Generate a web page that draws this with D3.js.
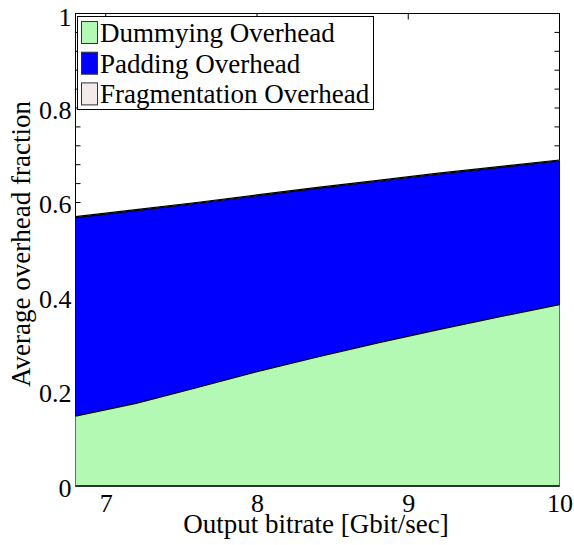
<!DOCTYPE html>
<html>
<head>
<meta charset="utf-8">
<script src="https://cdn.jsdelivr.net/npm/d3@7"></script>
<style>
  html, body { margin: 0; padding: 0; background: #fff; }
  svg { display: block; }
  text { font-family: "Liberation Serif", "Times New Roman", serif; fill: #000; }
</style>
</head>
<body>
<svg id="chart" width="574" height="545"></svg>
<script>
// Output bitrate in Gbit/sec
const bitrate = [6.8, 7.2, 7.6, 8.0, 8.4, 8.8, 9.2, 9.6, 10.0];
// Overhead components (fractions, stacked)
const dummying      = [0.148, 0.175, 0.208, 0.242, 0.273, 0.303, 0.331, 0.358, 0.384];
const padding       = [0.420, 0.408, 0.390, 0.372, 0.357, 0.342, 0.329, 0.316, 0.304];
const fragmentation = [0.002, 0.002, 0.002, 0.002, 0.002, 0.002, 0.002, 0.002, 0.002];

const seriesNames = ["Dummying Overhead", "Padding Overhead", "Fragmentation Overhead"];
const seriesColors = ["#b3f8b3", "#0000ff", "#f3eaea"];
const xTicks = [7, 8, 9, 10];
const yTicks = [0, 0.2, 0.4, 0.6, 0.8, 1];

const svg = d3.select("#chart");
const plotLeft = 75.5, plotRight = 559.5, plotTop = 13.5, plotBottom = 486;

const x = d3.scaleLinear().domain([6.8, 10]).range([plotLeft, plotRight]);
const y = d3.scaleLinear().domain([0, 1]).range([plotBottom, plotTop]);

const rows = bitrate.map((b, i) => ({
  bitrate: b,
  d: dummying[i], p: padding[i], f: fragmentation[i]
}));
const stack = d3.stack().keys(["d", "p", "f"]);
const layers = stack(rows);

// axes frame and inward ticks (drawn below the filled areas)
const frame = svg.append("g");
frame.append("rect")
  .attr("x", plotLeft).attr("y", plotTop)
  .attr("width", plotRight - plotLeft).attr("height", plotBottom - plotTop)
  .attr("fill", "none").attr("stroke", "#000").attr("stroke-width", 1);

const minorY = d3.range(0, 1.0001, 0.04);
frame.selectAll(".yl").data(minorY).join("line")
  .attr("x1", plotLeft).attr("x2", plotLeft + 5)
  .attr("y1", d => y(d)).attr("y2", d => y(d))
  .attr("stroke", "#000");
frame.selectAll(".yr").data(minorY).join("line")
  .attr("x1", plotRight).attr("x2", plotRight - 5)
  .attr("y1", d => y(d)).attr("y2", d => y(d))
  .attr("stroke", "#000");
frame.selectAll(".xt").data(xTicks).join("line")
  .attr("x1", d => x(d)).attr("x2", d => x(d))
  .attr("y1", plotTop).attr("y2", plotTop + 6)
  .attr("stroke", "#000");

// stacked areas
const area = d3.area()
  .x(d => x(d.data.bitrate))
  .y0(d => y(d[0]))
  .y1(d => y(d[1]));
const line = d3.line()
  .x(d => x(d.data.bitrate))
  .y(d => y(d[1]));

const plot = svg.append("g");
plot.selectAll("path.area").data(layers).join("path")
  .attr("class", "area")
  .attr("d", area)
  .attr("fill", (d, i) => seriesColors[i]);
plot.selectAll("path.edge").data(layers).join("path")
  .attr("class", "edge")
  .attr("d", line)
  .attr("fill", "none")
  .attr("stroke", "#000")
  .attr("stroke-width", 1.2);
// baseline
plot.append("line")
  .attr("x1", plotLeft).attr("x2", plotRight)
  .attr("y1", y(0)).attr("y2", y(0))
  .attr("stroke", "#333").attr("stroke-width", 2);

// tick labels
const xAxis = d3.axisBottom(x).tickValues(xTicks).tickSize(0).tickPadding(8)
  .tickFormat(d3.format("d"));
const gx = svg.append("g").attr("transform", `translate(0,${plotBottom})`).call(xAxis);
gx.select(".domain").remove();
gx.selectAll("text").attr("font-size", 26)
  .attr("font-family", "Liberation Serif").attr("fill", "#000");

const yAxis = d3.axisLeft(y).tickValues(yTicks).tickSize(0).tickPadding(4)
  .tickFormat(d => d === 0 || d === 1 ? d3.format("d")(d) : d3.format(".1f")(d));
const gy = svg.append("g").attr("transform", `translate(${plotLeft},0)`).call(yAxis);
gy.select(".domain").remove();
gy.selectAll("text").attr("font-size", 26)
  .attr("font-family", "Liberation Serif").attr("fill", "#000")
  .attr("y", d => d === 1 ? 4 : 2);

// axis titles
svg.append("text")
  .attr("x", 316).attr("y", 533)
  .attr("text-anchor", "middle").attr("font-size", 27)
  .text("Output bitrate [Gbit/sec]");
svg.append("text")
  .attr("transform", `translate(30,244) rotate(-90)`)
  .attr("text-anchor", "middle").attr("font-size", 27)
  .text("Average overhead fraction");

// legend
const lg = svg.append("g");
lg.append("rect")
  .attr("x", 77.5).attr("y", 16.5).attr("width", 296).attr("height", 93)
  .attr("fill", "#fff").attr("stroke", "#000").attr("stroke-width", 1);
const items = lg.selectAll("g.item").data(seriesNames).join("g")
  .attr("class", "item")
  .attr("transform", (d, i) => `translate(0,${i * 30.7})`);
items.append("rect")
  .attr("x", 81.5).attr("y", 21.5).attr("width", 16).attr("height", 22)
  .attr("fill", (d, i) => seriesColors[i]).attr("stroke", "#333");
items.append("text")
  .attr("x", 100).attr("y", 42)
  .attr("font-size", 27)
  .text(d => d);
</script>
</body>
</html>
